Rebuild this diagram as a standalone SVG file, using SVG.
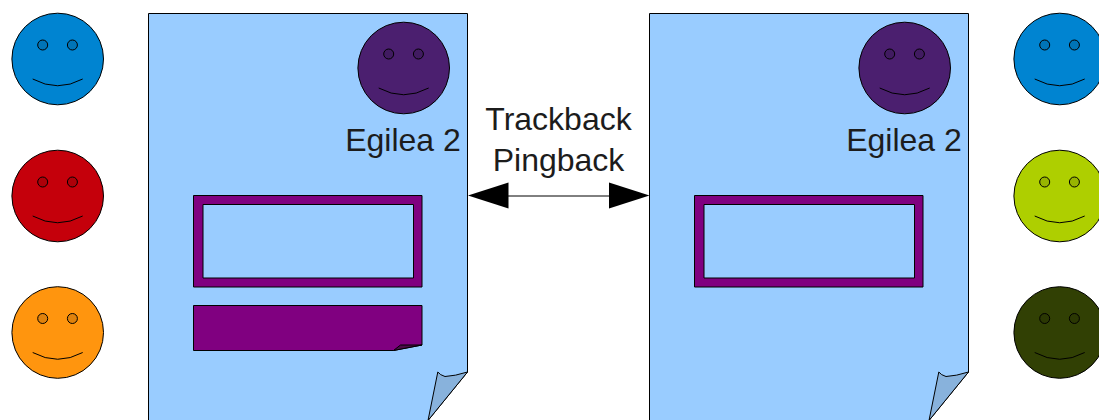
<svg xmlns="http://www.w3.org/2000/svg" width="1099" height="420" viewBox="0 0 1099 420">
<style>
.o{stroke:#000;stroke-width:1}
.doc{fill:#99ccff}
.fold{fill:#88b2dc}
.purple{fill:#800080}
.line{fill:none;stroke:#000;stroke-width:1}
.eye{stroke:#000;stroke-width:1;fill:#000;fill-opacity:.12}
text{font-family:"Liberation Sans",Arial,sans-serif;font-size:32px;fill:#1c1c1c;text-anchor:middle}
</style>
<defs>
<g id="face">
<circle class="o" cx="0" cy="0" r="45.800"/>
<circle class="eye" cx="-15" cy="-14" r="5"/>
<circle class="eye" cx="14.700" cy="-14" r="5"/>
<path class="line" d="M-25 20Q0 33.500 25 20"/>
</g>
<g id="page">
<path class="doc o" d="M148.500 13.500H467.500V372L428 420.500H148.500Z"/>
<path class="fold o" d="M467.500 372Q455 376 445 376.500Q440 375 437.800 372L428 420.500Z"/>
<path class="purple o" fill-rule="evenodd" d="M193.500 195.500H422V287H193.500ZM203 204.500V278H413.500V204.500Z"/>
</g>
</defs>
<g id="smiley-blue-left" fill="#0084d1"><use href="#face" x="57.700" y="59"/></g>
<g id="smiley-red" fill="#c5000b"><use href="#face" x="57.700" y="196"/></g>
<g id="smiley-orange" fill="#ff950e"><use href="#face" x="57.700" y="332.500"/></g>
<g id="document-left">
<use href="#page"/>
<g fill="#4b1f6f"><use href="#face" x="403.700" y="68"/></g>
<text x="403" y="151">Egilea 2</text>
<path class="purple o" d="M193.500 305.500H422V345L393.500 350.500H193.500Z"/>
<path class="o" fill="#4a0d4a" d="M422 345L400.500 345L393.500 350.500Z"/>
</g>
<g id="document-right">
<use href="#page" x="501"/>
<g fill="#4b1f6f"><use href="#face" x="904.700" y="68"/></g>
<text x="904" y="151">Egilea 2</text>
</g>
<g id="smiley-blue-right" fill="#0084d1"><use href="#face" x="1059.700" y="59"/></g>
<g id="smiley-green" fill="#aecf00"><use href="#face" x="1059.700" y="196"/></g>
<g id="smiley-dark-green" fill="#314004"><use href="#face" x="1059.700" y="332.500"/></g>
<g id="connectors">
<path d="M508 196H610" class="line"/>
<path d="M468 195.500L508.500 182.500V208.500Z" fill="#000"/>
<path d="M649.500 195.500L609 182.500V208.500Z" fill="#000"/>
</g>
<g id="label">
<text x="558.500" y="130">Trackback</text>
<text x="558.500" y="171">Pingback</text>
</g>
</svg>
